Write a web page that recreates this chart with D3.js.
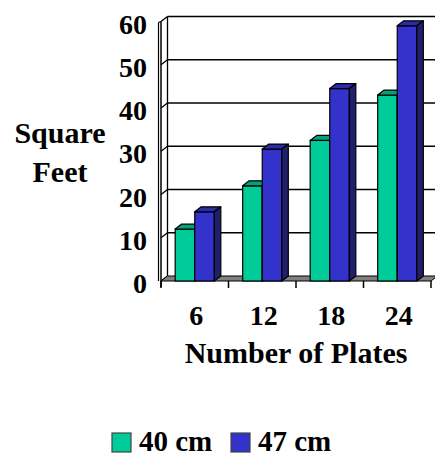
<!DOCTYPE html>
<html>
<head>
<meta charset="utf-8">
<script src="https://cdn.jsdelivr.net/npm/d3@7"></script>
<style>
  body { margin: 0; background: #fff; }
  text { font-family: "Liberation Serif", "Times New Roman", serif; font-weight: bold; fill: #000; }
</style>
</head>
<body>
<div id="chart"></div>
<script>
const plates = ["6", "12", "18", "24"];
const seriesNames = ["40 cm", "47 cm"];
const values40 = [12, 22, 32.5, 43];
const values47 = [16, 30.5, 44.5, 59];
const yTicks = [0, 10, 20, 30, 40, 50, 60];

const W = 435, H = 456;
const DX = 6.5, DY = -5;   // 3d depth offset

const svg = d3.select("#chart").append("svg")
  .attr("width", W).attr("height", H);

const x0 = d3.scaleBand().domain(plates).range([161, 431]);
const bw = x0.bandwidth();
const x1 = d3.scaleBand().domain(seriesNames).range([0.21 * bw, 0.79 * bw]);
const y = d3.scaleLinear().domain([0, 60]).range([281, 21.5]);

const colors = {
  "40 cm": { front: "#00cc99", top: "#00a27a", side: "#007a5c" },
  "47 cm": { front: "#3333cc", top: "#2b2baa", side: "#1f1f6b" }
};

// back wall gridlines
const xl = 161, xr = 431;
svg.append("g").selectAll("line")
  .data(yTicks.filter(d => d > 0))
  .join("line")
  .attr("x1", xl + DX).attr("x2", xr + DX + 10)
  .attr("y1", d => y(d) + DY).attr("y2", d => y(d) + DY)
  .attr("stroke", "#000").attr("stroke-width", 1.5);

// left wall
svg.append("line")
  .attr("x1", xl + DX).attr("x2", xl + DX)
  .attr("y1", y(60) + DY).attr("y2", y(0) + DY)
  .attr("stroke", "#000").attr("stroke-width", 1.3);
svg.append("line")
  .attr("x1", xl).attr("x2", xl)
  .attr("y1", y(60)).attr("y2", y(0) + 6)
  .attr("stroke", "#000").attr("stroke-width", 1.5);
svg.append("line")
  .attr("x1", xl - 2.5).attr("x2", xl - 2.5)
  .attr("y1", y(60) + 1).attr("y2", y(0))
  .attr("stroke", "#000").attr("stroke-width", 1.2);
svg.append("line")
  .attr("x1", xl - 2.5).attr("x2", xl)
  .attr("y1", y(60) + 1).attr("y2", y(60))
  .attr("stroke", "#000").attr("stroke-width", 1.2);
svg.append("g").selectAll("line")
  .data(yTicks)
  .join("line")
  .attr("x1", xl).attr("x2", xl + DX)
  .attr("y1", d => y(d)).attr("y2", d => y(d) + DY)
  .attr("stroke", "#000").attr("stroke-width", 1.3);

// floor
svg.append("polygon")
  .attr("points", [[xl, y(0)], [xr, y(0)], [xr + DX, y(0) + DY], [xl + DX, y(0) + DY]].join(" "))
  .attr("fill", "#808080").attr("stroke", "#000").attr("stroke-width", 1);

// category ticks
svg.append("g").selectAll("line")
  .data(plates.map(p => x0(p)).concat([xr]))
  .join("line")
  .attr("x1", d => d).attr("x2", d => d)
  .attr("y1", y(0)).attr("y2", y(0) + 7)
  .attr("stroke", "#000").attr("stroke-width", 1.5);

// bars
const rows = plates.map((p, i) => ({ plate: p, vals: [values40[i], values47[i]] }));
const groups = svg.append("g").selectAll("g")
  .data(rows)
  .join("g")
  .attr("transform", d => `translate(${x0(d.plate)},0)`);

groups.each(function (d) {
  const g = d3.select(this);
  seriesNames.forEach((s, j) => {
    const v = d.vals[j];
    const bx = x1(s), w = x1.bandwidth();
    const yt = y(v), yb = y(0);
    const c = colors[s];
    g.append("rect")
      .attr("x", bx).attr("y", yt).attr("width", w).attr("height", yb - yt)
      .attr("fill", c.front).attr("stroke", "#000").attr("stroke-width", 1.2);
    g.append("polygon")
      .attr("points", [[bx, yt], [bx + w, yt], [bx + w + DX, yt + DY], [bx + DX, yt + DY]].join(" "))
      .attr("fill", c.top).attr("stroke", "#000").attr("stroke-width", 1.2)
      .attr("stroke-linejoin", "round");
    g.append("polygon")
      .attr("points", [[bx + w, yt], [bx + w + DX, yt + DY], [bx + w + DX, yb + DY], [bx + w, yb]].join(" "))
      .attr("fill", c.side).attr("stroke", "#000").attr("stroke-width", 1.2)
      .attr("stroke-linejoin", "round");
  });
});

// y tick labels
svg.append("g").selectAll("text")
  .data(yTicks)
  .join("text")
  .attr("x", 147).attr("y", d => y(d) + 12)
  .attr("text-anchor", "end")
  .style("font-size", "28px")
  .text(d => d);

// x tick labels
svg.append("g").selectAll("text")
  .data(plates)
  .join("text")
  .attr("x", d => x0(d) + bw / 2 + 1.5).attr("y", 325)
  .attr("text-anchor", "middle")
  .style("font-size", "28px")
  .text(d => d);

// axis titles
svg.append("text").attr("x", 60).attr("y", 143).attr("text-anchor", "middle")
  .style("font-size", "30px").text("Square");
svg.append("text").attr("x", 60).attr("y", 181.5).attr("text-anchor", "middle")
  .style("font-size", "30px").text("Feet");
svg.append("text").attr("x", 296).attr("y", 362.5).attr("text-anchor", "middle")
  .style("font-size", "30px").text("Number of Plates");

// legend
const legendX = [112, 231];
const legend = svg.append("g").selectAll("g")
  .data(seriesNames)
  .join("g")
  .attr("transform", (d, i) => `translate(${legendX[i]},433)`);
legend.append("rect")
  .attr("width", 19).attr("height", 19)
  .attr("fill", d => colors[d].front)
  .attr("stroke", "#444").attr("stroke-width", 1.2);
legend.append("text")
  .attr("x", 27).attr("y", 18)
  .style("font-size", "29px")
  .text(d => d);
</script>
</body>
</html>
